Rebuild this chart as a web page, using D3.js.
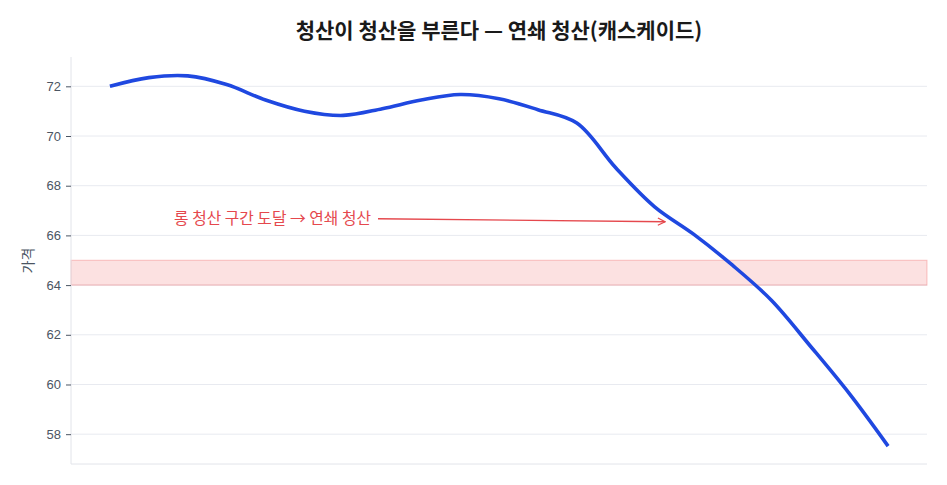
<!DOCTYPE html>
<html>
<head>
<meta charset="utf-8">
<script src="https://cdn.jsdelivr.net/npm/d3@7"></script>
<style>
  body { margin: 0; background: #fff; font-family: "Noto Sans CJK KR", "Noto Sans", sans-serif; }
  .tick text { font-size: 13px; fill: #4b5563; }
  .grid line { stroke: #e8eaf0; }
</style>
</head>
<body>
<div id="chart"></div>
<script>
  // 가격 경로 (인덱스별)
  const steps = d3.range(0, 21);
  const prices = [72.0, 72.35, 72.42, 72.07, 71.45, 71.0, 70.83, 71.1, 71.45, 71.67, 71.5,
    71.06, 70.52, 68.72, 67.15, 66.05, 64.8, 63.39, 61.55, 59.64, 57.52];
  const yTicks = [58, 60, 62, 64, 66, 68, 70, 72];
  const zone = [64, 65];
  const title = '청산이 청산을 부른다 — 연쇄 청산(캐스케이드)';
  const yLabel = '가격';
  const note = { text: '롱 청산 구간 도달 → 연쇄 청산', from: [6.89, 66.67], to: [14.27, 66.55] };

  const width = 947, height = 485;
  const margin = { top: 57, right: 20, bottom: 21, left: 71 };

  const svg = d3.select('#chart').append('svg')
    .attr('width', width).attr('height', height);

  const x = d3.scaleLinear().domain([-1, 21]).range([margin.left, width - margin.right]);
  const y = d3.scaleLinear().domain([56.8, 73.18]).range([height - margin.bottom, margin.top]);

  // grid
  svg.append('g').attr('class', 'grid')
    .selectAll('line').data(yTicks).join('line')
    .attr('x1', margin.left).attr('x2', width - margin.right)
    .attr('y1', d => y(d)).attr('y2', d => y(d));

  // liquidation zone
  svg.append('rect')
    .attr('x', margin.left).attr('width', width - margin.right - margin.left)
    .attr('y', y(zone[1])).attr('height', y(zone[0]) - y(zone[1]))
    .attr('fill', 'rgba(239,68,68,0.16)')
    .attr('stroke', 'rgba(239,68,68,0.3)');

  // axes frame
  svg.append('line')
    .attr('x1', margin.left).attr('x2', margin.left)
    .attr('y1', margin.top).attr('y2', height - margin.bottom)
    .attr('stroke', '#e2e4ea');
  svg.append('line')
    .attr('x1', margin.left).attr('x2', width - margin.right)
    .attr('y1', height - margin.bottom).attr('y2', height - margin.bottom)
    .attr('stroke', '#e2e4ea');

  const yAxis = svg.append('g')
    .attr('transform', `translate(${margin.left},0)`)
    .call(d3.axisLeft(y).tickValues(yTicks).tickSize(5).tickPadding(5));
  yAxis.select('.domain').remove();
  yAxis.selectAll('.tick line').attr('stroke', '#4b5563');

  svg.append('text')
    .attr('transform', `translate(33,${(margin.top + height - margin.bottom) / 2}) rotate(-90)`)
    .attr('text-anchor', 'middle')
    .attr('font-size', 14).attr('fill', '#4b5563')
    .text(yLabel);

  // price line
  svg.append('path')
    .datum(steps)
    .attr('fill', 'none')
    .attr('stroke', '#1f48e0')
    .attr('stroke-width', 3.6)
    .attr('stroke-linejoin', 'round')
    .attr('d', d3.line()
      .x(i => x(i))
      .y(i => y(prices[i]))
      .curve(d3.curveCatmullRom.alpha(0.5)));

  // annotation
  svg.append('defs').append('marker')
    .attr('id', 'arr').attr('viewBox', '0 0 10 10')
    .attr('refX', 9).attr('refY', 5)
    .attr('markerWidth', 7).attr('markerHeight', 7)
    .attr('orient', 'auto')
    .append('path').attr('d', 'M1,1 L9,5 L1,9')
    .attr('fill', 'none').attr('stroke', '#e5484d').attr('stroke-width', 1.4);

  svg.append('line')
    .attr('x1', x(note.from[0])).attr('y1', y(note.from[1]))
    .attr('x2', x(note.to[0])).attr('y2', y(note.to[1]))
    .attr('stroke', '#e5484d').attr('stroke-width', 1.3)
    .attr('marker-end', 'url(#arr)');

  svg.append('text')
    .attr('x', x(note.from[0]) - 7).attr('y', y(note.from[1]) + 5)
    .attr('text-anchor', 'end')
    .attr('font-size', 15.8).attr('fill', '#e5484d')
    .text(note.text);

  svg.append('text')
    .attr('x', (margin.left + width - margin.right) / 2).attr('y', 38)
    .attr('text-anchor', 'middle')
    .attr('font-size', 21).attr('font-weight', 'bold').attr('fill', '#1a1a1a')
    .text(title);
</script>
</body>
</html>
